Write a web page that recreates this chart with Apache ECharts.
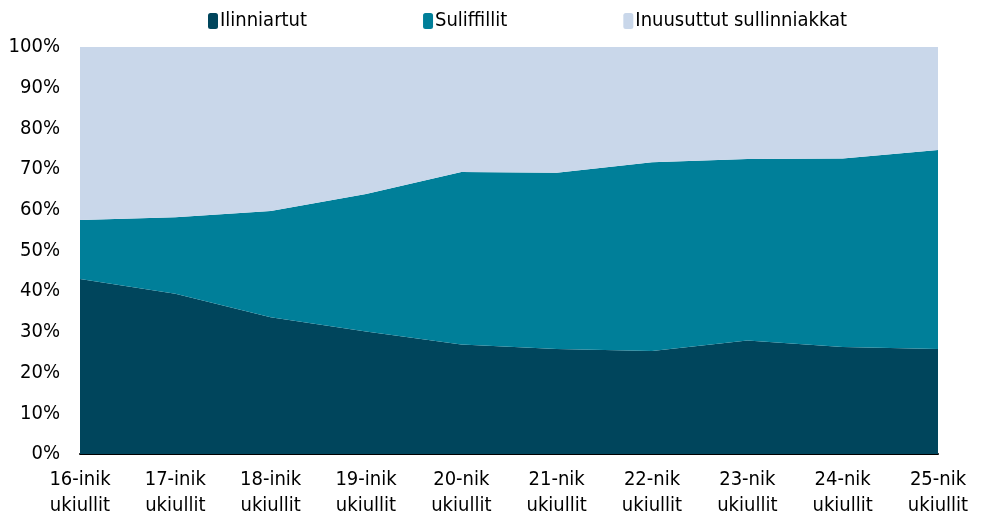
<!DOCTYPE html>
<html>
<head>
<meta charset="utf-8">
<script src="https://cdn.jsdelivr.net/npm/echarts@6/dist/echarts.min.js"></script>
<style>
  html, body { margin: 0; padding: 0; background: #fff; }
  #chart { width: 981px; height: 515px; }
</style>
</head>
<body>
<div id="chart"></div>
<script>
// aldersgrupper
const categories = [
  "16-inik\nukiullit", "17-inik\nukiullit", "18-inik\nukiullit", "19-inik\nukiullit",
  "20-nik\nukiullit", "21-nik\nukiullit", "22-nik\nukiullit", "23-nik\nukiullit",
  "24-nik\nukiullit", "25-nik\nukiullit"
];
// andele i procent
const ilinniartut = [43.0, 39.4, 33.6, 30.1, 26.9, 25.8, 25.3, 27.9, 26.3, 25.8];
const suliffillit = [14.5, 18.8, 26.1, 33.8, 42.4, 43.3, 46.4, 44.6, 46.3, 48.9];
const inuusuttut = [42.5, 41.8, 40.3, 36.1, 30.7, 30.9, 28.3, 27.5, 27.4, 25.3];
const yTicks = [0, 10, 20, 30, 40, 50, 60, 70, 80, 90, 100];

const font = '"Liberation Sans Narrow", "DejaVu Sans Condensed", "Liberation Sans", sans-serif';

const chart = echarts.init(document.getElementById("chart"));

function area(name, data, color) {
  return {
    name: name,
    type: "line",
    stack: "total",
    data: data,
    symbol: "none",
    lineStyle: { width: 0 },
    areaStyle: { color: color, opacity: 1 },
    itemStyle: { color: color }
  };
}

chart.setOption({
  animation: false,
  textStyle: { fontFamily: font },
  legend: {
    top: 6,
    left: 203,
    itemWidth: 10,
    itemHeight: 16,
    itemGap: 116,
    icon: "roundRect",
    textStyle: { fontFamily: font, fontSize: 20, color: "#000", padding: [0, 0, 0, -3] },
    data: ["Ilinniartut", "Suliffillit", "Inuusuttut sullinniakkat"]
  },
  grid: {
    left: 80, right: 43, top: 47, bottom: 61,
    containLabel: false,
    outerBoundsMode: "none"
  },
  xAxis: {
    type: "category",
    boundaryGap: false,
    data: categories,
    axisTick: { show: false },
    axisLine: { lineStyle: { color: "#000", width: 2 } },
    axisLabel: {
      color: "#000",
      fontFamily: font,
      fontSize: 20,
      lineHeight: 26,
      margin: 13
    },
    splitLine: { show: false }
  },
  yAxis: {
    type: "value",
    min: yTicks[0],
    max: yTicks[yTicks.length - 1],
    interval: 10,
    axisLine: { show: false },
    axisTick: { show: false },
    splitLine: { show: false },
    axisLabel: {
      color: "#000",
      fontFamily: font,
      fontSize: 20,
      margin: 20,
      formatter: "{value}%"
    }
  },
  series: [
    area("Ilinniartut", ilinniartut, "#00455C"),
    area("Suliffillit", suliffillit, "#007F99"),
    area("Inuusuttut sullinniakkat", inuusuttut, "#C9D7EA")
  ]
});
</script>
</body>
</html>
